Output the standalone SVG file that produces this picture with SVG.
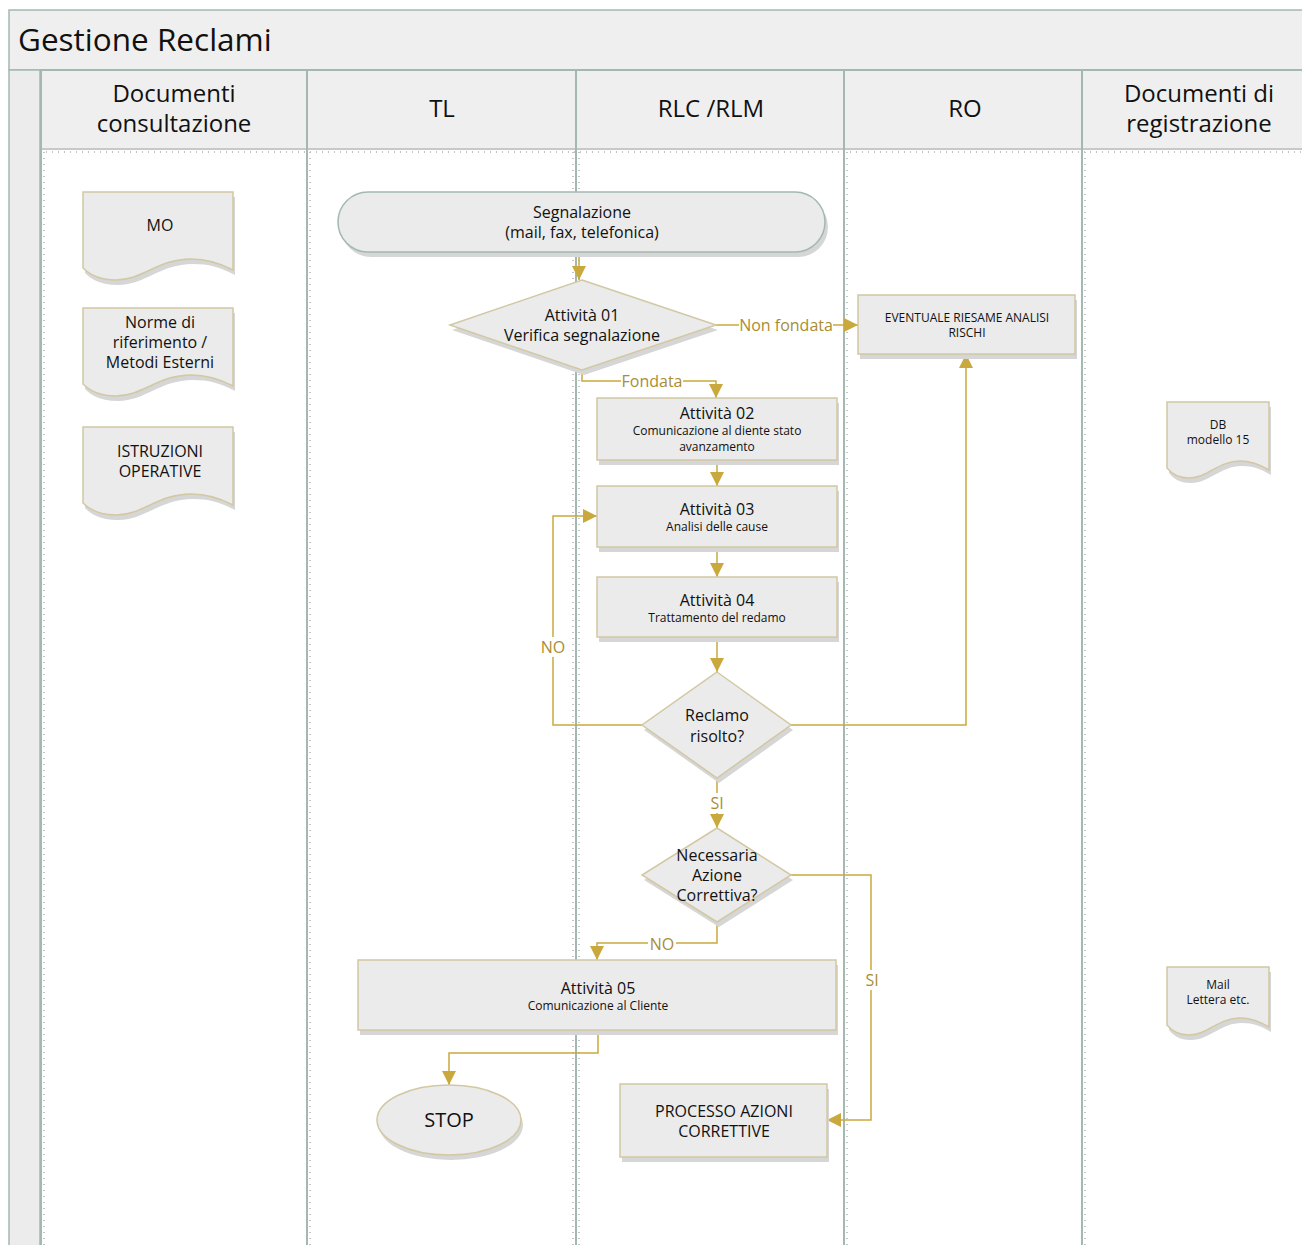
<svg xmlns="http://www.w3.org/2000/svg" width="1302" height="1245" viewBox="0 0 1302 1245">
<style>
text{font-family:"Open Sans","Noto Sans","Liberation Sans",sans-serif;fill:#111;text-anchor:middle}
.node{fill:#ebebeb;stroke:#d2c8a3;stroke-width:1.5}
.term{fill:#ebebeb;stroke:#a3b8b0;stroke-width:1.5}
.shadow{fill:#d6d6d6}
.lane{stroke:#a3b8b0;stroke-width:2;fill:none}
.dots{stroke:#c4c4c4;stroke-width:2;stroke-dasharray:1 5;fill:none}
.conn{stroke:#c9a93e;stroke-width:1.5;fill:none}
.lbl{fill:#a98d33;font-size:16px}
.lblbg{fill:#fff}
.big{font-size:16px}
.small{font-size:12px}
.hdr{font-size:24px}
</style>
<defs>
<marker id="arr" viewBox="0 0 14 14" refX="14" refY="7" markerWidth="14" markerHeight="14" markerUnits="userSpaceOnUse" orient="auto">
<path d="M0,0 L14,7 L0,14 Z" fill="#c9a93e"/>
</marker>
</defs>
<rect width="1302" height="1245" fill="#fff"/>
<g id="pool">
<rect x="9" y="10" width="1300" height="60" fill="#efefef" stroke="#a3b8b0" stroke-width="1.5"/>
<text x="18" y="51" style="text-anchor:start;font-size:31.5px">Gestione Reclami</text>
<rect x="9" y="70" width="31" height="1180" fill="#ececec" stroke="#a3b8b0" stroke-width="1.5"/>
<rect x="40" y="70" width="1270" height="78" fill="#efefef"/>
<line x1="40" y1="70" x2="1302" y2="70" class="lane"/>
<line x1="40" y1="149" x2="1302" y2="149" stroke="#c8c8c8" stroke-width="2"/>
<line x1="40" y1="152" x2="1302" y2="152" class="dots"/>
<line x1="41" y1="70" x2="41" y2="1245" class="lane"/>
<line x1="307" y1="70" x2="307" y2="1245" class="lane"/>
<line x1="576" y1="70" x2="576" y2="1245" class="lane"/>
<line x1="844" y1="70" x2="844" y2="1245" class="lane"/>
<line x1="1082" y1="70" x2="1082" y2="1245" class="lane"/>
<line x1="44" y1="152" x2="44" y2="1245" class="dots"/>
<line x1="310" y1="152" x2="310" y2="1245" class="dots"/>
<line x1="573" y1="152" x2="573" y2="1245" class="dots"/>
<line x1="579" y1="152" x2="579" y2="1245" class="dots"/>
<line x1="847" y1="152" x2="847" y2="1245" class="dots"/>
<line x1="1085" y1="152" x2="1085" y2="1245" class="dots"/>
<text x="174" y="102" class="hdr">Documenti</text>
<text x="174" y="132" class="hdr">consultazione</text>
<text x="442" y="117" class="hdr">TL</text>
<text x="711" y="117" class="hdr">RLC /RLM</text>
<text x="965" y="117" class="hdr">RO</text>
<text x="1199" y="102" class="hdr">Documenti di</text>
<text x="1199" y="132" class="hdr">registrazione</text>
</g>
<g id="connectors">
<path class="conn" d="M579,253 V280" marker-end="url(#arr)"/>
<path class="conn" d="M716,325 H858" marker-end="url(#arr)"/>
<path class="conn" d="M582,370 V381 H716 V398" marker-end="url(#arr)"/>
<path class="conn" d="M717,460 V486" marker-end="url(#arr)"/>
<path class="conn" d="M717,547 V577" marker-end="url(#arr)"/>
<path class="conn" d="M717,637 V672" marker-end="url(#arr)"/>
<path class="conn" d="M642,725 H553 V516 H597" marker-end="url(#arr)"/>
<path class="conn" d="M791,725 H966 V354" marker-end="url(#arr)"/>
<path class="conn" d="M717,778 V828" marker-end="url(#arr)"/>
<path class="conn" d="M717,922 V943 H597 V960" marker-end="url(#arr)"/>
<path class="conn" d="M791,875 H871 V1120 H827" marker-end="url(#arr)"/>
<path class="conn" d="M598,1030 V1053 H449 V1085" marker-end="url(#arr)"/>
<rect class="lblbg" x="739" y="315" width="94" height="20"/>
<text class="lbl" x="786" y="331">Non fondata</text>
<rect class="lblbg" x="621" y="371" width="62" height="20"/>
<text class="lbl" x="652" y="387">Fondata</text>
<rect class="lblbg" x="540" y="637" width="26" height="20"/>
<text class="lbl" x="553" y="653">NO</text>
<rect class="lblbg" x="709" y="793" width="16" height="20"/>
<text class="lbl" x="717" y="809">SI</text>
<rect class="lblbg" x="648" y="934" width="28" height="20"/>
<text class="lbl" x="662" y="950">NO</text>
<rect class="lblbg" x="864" y="970" width="16" height="20"/>
<text class="lbl" x="872" y="986">SI</text>
</g>
<g id="mo">
<path class="shadow" transform="translate(2,5)" d="M83,192 H233 V270 C218,262 206,259 191,259 C158,259 143,280 116,280 C98,280 89,274 83,268 Z"/>
<path class="node" d="M83,192 H233 V270 C218,262 206,259 191,259 C158,259 143,280 116,280 C98,280 89,274 83,268 Z"/>
<text x="160" y="231" class="big">MO</text>
</g>
<g id="norme">
<path class="shadow" transform="translate(2,5)" d="M83,308 H233 V386 C218,378 206,375 191,375 C158,375 143,396 116,396 C98,396 89,390 83,384 Z"/>
<path class="node" d="M83,308 H233 V386 C218,378 206,375 191,375 C158,375 143,396 116,396 C98,396 89,390 83,384 Z"/>
<text x="160" y="328" class="big">Norme di</text>
<text x="160" y="348" class="big">riferimento /</text>
<text x="160" y="368" class="big">Metodi Esterni</text>
</g>
<g id="istruzioni">
<path class="shadow" transform="translate(2,5)" d="M83,427 H233 V505 C218,497 206,494 191,494 C158,494 143,515 116,515 C98,515 89,509 83,503 Z"/>
<path class="node" d="M83,427 H233 V505 C218,497 206,494 191,494 C158,494 143,515 116,515 C98,515 89,509 83,503 Z"/>
<text x="160" y="457" class="big">ISTRUZIONI</text>
<text x="160" y="477" class="big">OPERATIVE</text>
</g>
<g id="segnalazione">
<rect class="shadow" x="341" y="197" width="487" height="60" rx="30"/>
<rect class="term" x="338" y="192" width="487" height="60" rx="30"/>
<text x="582" y="218" class="big">Segnalazione</text>
<text x="582" y="238" class="big">(mail, fax, telefonica)</text>
</g>
<g id="attivita01">
<path class="shadow" transform="translate(2,5)" d="M582,280 L716,325 L582,370 L450,325 Z"/>
<path class="node" d="M582,280 L716,325 L582,370 L450,325 Z"/>
<text x="582" y="321" class="big">Attività 01</text>
<text x="582" y="341" class="big">Verifica segnalazione</text>
</g>
<g id="eventuale">
<rect class="shadow" x="860" y="300" width="217" height="59"/>
<rect class="node" x="858" y="295" width="217" height="59"/>
<text x="967" y="322" class="small">EVENTUALE RIESAME ANALISI</text>
<text x="967" y="337" class="small">RISCHI</text>
</g>
<g id="attivita02">
<rect class="shadow" x="599" y="403" width="240" height="62"/>
<rect class="node" x="597" y="398" width="240" height="62"/>
<text x="717" y="419" class="big">Attività 02</text>
<text x="717" y="435" class="small">Comunicazione al diente stato</text>
<text x="717" y="451" class="small">avanzamento</text>
</g>
<g id="attivita03">
<rect class="shadow" x="599" y="491" width="240" height="61"/>
<rect class="node" x="597" y="486" width="240" height="61"/>
<text x="717" y="515" class="big">Attività 03</text>
<text x="717" y="531" class="small">Analisi delle cause</text>
</g>
<g id="attivita04">
<rect class="shadow" x="599" y="582" width="240" height="60"/>
<rect class="node" x="597" y="577" width="240" height="60"/>
<text x="717" y="606" class="big">Attività 04</text>
<text x="717" y="622" class="small">Trattamento del redamo</text>
</g>
<g id="reclamo">
<path class="shadow" transform="translate(2,5)" d="M717,672 L791,725 L717,778 L642,725 Z"/>
<path class="node" d="M717,672 L791,725 L717,778 L642,725 Z"/>
<text x="717" y="721" class="big">Reclamo</text>
<text x="717" y="742" class="big">risolto?</text>
</g>
<g id="necessaria">
<path class="shadow" transform="translate(2,5)" d="M717,828 L791,875 L717,922 L642,875 Z"/>
<path class="node" d="M717,828 L791,875 L717,922 L642,875 Z"/>
<text x="717" y="861" class="big">Necessaria</text>
<text x="717" y="881" class="big">Azione</text>
<text x="717" y="901" class="big">Correttiva?</text>
</g>
<g id="attivita05">
<rect class="shadow" x="360" y="965" width="478" height="70"/>
<rect class="node" x="358" y="960" width="478" height="70"/>
<text x="598" y="994" class="big">Attività 05</text>
<text x="598" y="1010" class="small">Comunicazione al Cliente</text>
</g>
<g id="stop">
<ellipse class="shadow" cx="451" cy="1125" rx="72" ry="35"/>
<ellipse class="node" cx="449" cy="1120" rx="72" ry="35"/>
<text x="449" y="1127" style="font-size:20px">STOP</text>
</g>
<g id="processo">
<rect class="shadow" x="622" y="1089" width="207" height="73"/>
<rect class="node" x="620" y="1084" width="207" height="73"/>
<text x="724" y="1117" class="big">PROCESSO AZIONI</text>
<text x="724" y="1137" class="big">CORRETTIVE</text>
</g>
<g id="db">
<path class="shadow" transform="translate(2,5)" d="M1167,402 H1269 V470 C1259,464 1251,461 1240,461 C1218,461 1208,478 1189,478 C1177,478 1171,473 1167,468 Z"/>
<path class="node" d="M1167,402 H1269 V470 C1259,464 1251,461 1240,461 C1218,461 1208,478 1189,478 C1177,478 1171,473 1167,468 Z"/>
<text x="1218" y="429" class="small">DB</text>
<text x="1218" y="444" class="small">modello 15</text>
</g>
<g id="mail">
<path class="shadow" transform="translate(2,5)" d="M1167,967 H1269 V1027 C1259,1021 1251,1018 1240,1018 C1218,1018 1208,1035 1189,1035 C1177,1035 1171,1030 1167,1025 Z"/>
<path class="node" d="M1167,967 H1269 V1027 C1259,1021 1251,1018 1240,1018 C1218,1018 1208,1035 1189,1035 C1177,1035 1171,1030 1167,1025 Z"/>
<text x="1218" y="989" class="small">Mail</text>
<text x="1218" y="1004" class="small">Lettera etc.</text>
</g>
</svg>
